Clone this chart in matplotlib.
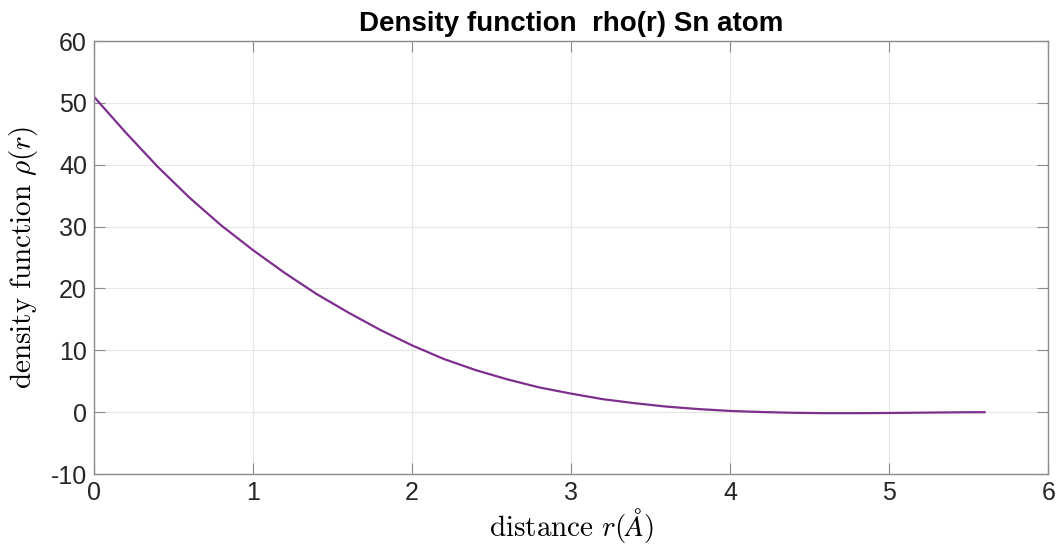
import matplotlib
matplotlib.use('Agg')
import matplotlib.pyplot as plt

# values
r = [0.0, 0.2, 0.4, 0.6, 0.8, 1.0, 1.2, 1.4, 1.6, 1.8, 2.0, 2.2, 2.4, 2.6,
     2.8, 3.0, 3.2, 3.4, 3.6, 3.8, 4.0, 4.2, 4.4, 4.6, 4.8, 5.0, 5.2, 5.4, 5.6]
rho = [51.0, 45.2, 39.7, 34.7, 30.2, 26.2, 22.5, 19.1, 16.1, 13.3, 10.8,
       8.6, 6.8, 5.3, 4.0, 3.0, 2.1, 1.45, 0.9, 0.5, 0.2, 0.02, -0.1,
       -0.16, -0.16, -0.13, -0.08, -0.03, 0.0]

xticks = [0, 1, 2, 3, 4, 5, 6]
yticks = [-10, 0, 10, 20, 30, 40, 50, 60]

plt.rcParams['mathtext.fontset'] = 'cm'
plt.rcParams['axes.unicode_minus'] = False
plt.rcParams['font.family'] = ['Liberation Sans', 'DejaVu Sans']

fig = plt.figure(figsize=(10.62, 5.48), dpi=100)
ax = fig.add_axes([0.0885, 0.135, 0.8985, 0.79])

ax.plot(r, rho, color=(0.494, 0.184, 0.556), linewidth=1.6)

ax.set_xlim(0, 6)
ax.set_ylim(-10, 60)
ax.set_xticks(xticks)
ax.set_yticks(yticks)
ax.grid(True, color='#e6e6e6', linewidth=0.8)
ax.set_axisbelow(True)

for s in ax.spines.values():
    s.set_color('#8c8c8c')
    s.set_linewidth(1.0)
ax.tick_params(direction='in', length=8, width=0.8, color='#8c8c8c',
               top=True, right=True, labelsize=18, labelcolor='#262626', pad=5)

ax.set_title('Density function  rho(r) Sn atom', fontsize=20, fontweight='bold', pad=7)
ax.set_xlabel(r'$\mathrm{distance}\ r(\AA)$', fontsize=21, labelpad=1)
ax.set_ylabel(r'$\mathrm{density\ function}\ \rho(r)$', fontsize=21, labelpad=8)

fig.savefig('out.png', dpi=100)
